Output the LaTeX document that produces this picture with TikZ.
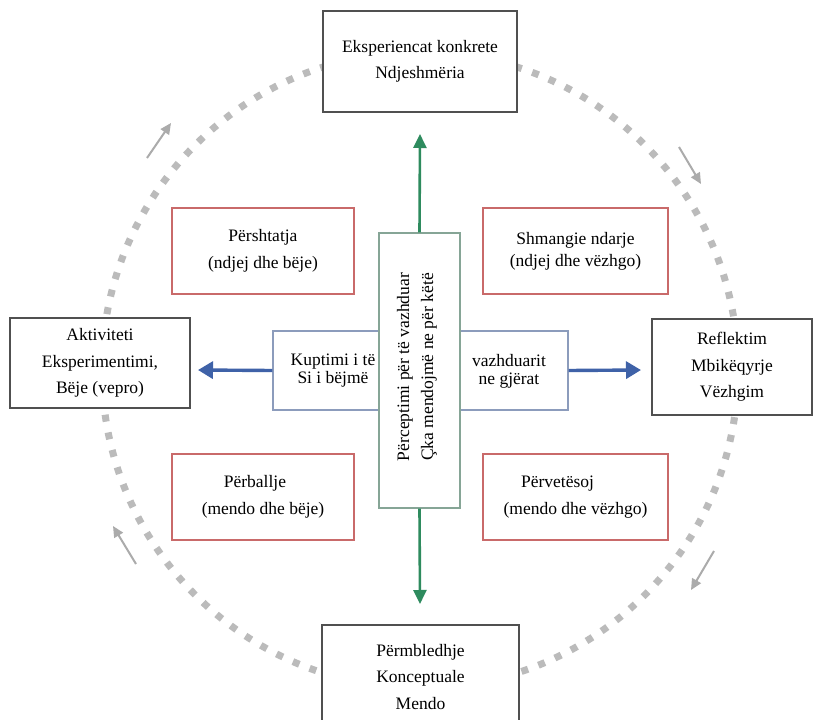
\documentclass[tikz,border=0pt]{standalone}
\usepackage{fontspec}
\setmainfont{Liberation Serif}
\usetikzlibrary{arrows.meta}
\definecolor{framegray}{HTML}{505050}
\definecolor{ringgray}{HTML}{BBBBBB}
\definecolor{arrowgray}{HTML}{ABABAB}
\definecolor{stylered}{HTML}{C96A6A}
\definecolor{axisgreen}{HTML}{2E8B5E}
\definecolor{axisblue}{HTML}{3F62A8}
\definecolor{vboxline}{HTML}{86A596}
\definecolor{hboxline}{HTML}{8C9CBC}
\begin{document}
\begin{tikzpicture}[x=1pt,y=-1pt,
  font=\fontsize{17.5}{26.5}\selectfont,
  stagebox/.style={draw=framegray, line width=1.4pt, fill=white, align=center, inner sep=0pt},
  stylebox/.style={draw=stylered, line width=1.5pt, fill=white, align=center, inner sep=0pt,
                   minimum width=182pt, minimum height=86pt},
  cyclearrow/.style={arrowgray, line width=2pt, -{Triangle[length=11pt,width=10pt]}},
  greenaxis/.style={axisgreen, line width=2.6pt, -{Triangle[length=14pt,width=13pt]}},
  blueaxis/.style={axisblue, line width=3.4pt, -{Triangle[length=15pt,width=17pt]}},
  label/.style={inner sep=0pt, align=center}]
\useasboundingbox (0,0) rectangle (823,720);
\clip (0,0) rectangle (823,720);
\fill[white] (0,0) rectangle (823,720);

% dotted learning cycle
\draw[ringgray, line width=7pt, dash pattern=on 7pt off 11pt] (420,370) circle[radius=318pt];

% direction of the cycle (clockwise)
\coordinate (ulA) at (147,158); \coordinate (ulB) at (171,123);
\coordinate (urA) at (679,147); \coordinate (urB) at (701,184);
\coordinate (lrA) at (714,551); \coordinate (lrB) at (691,590);
\coordinate (llA) at (136,564); \coordinate (llB) at (113,526);
\draw[cyclearrow] (ulA) -- (ulB);
\draw[cyclearrow] (urA) -- (urB);
\draw[cyclearrow] (lrA) -- (lrB);
\draw[cyclearrow] (llA) -- (llB);

% the four stages
\node[stagebox, minimum width=194pt, minimum height=101pt] (top) at (420,61.5)
  {Eksperiencat konkrete\\Ndjeshmëria};
\node[stagebox, minimum width=180pt, minimum height=90pt] (left) at (100,363)
  {Aktiviteti\\Eksperimentimi,\\Bëje (vepro)};
\node[stagebox, minimum width=160pt, minimum height=96pt] (right) at (732,367)
  {Reflektim\\Mbikëqyrje\\Vëzhgim};
\node[stagebox, minimum width=197pt, minimum height=104pt] (bottom) at (420.5,677)
  {Përmbledhje\\Konceptuale\\Mendo};

% the four learning styles
\node[stylebox] (ul) at (263,251) {Përshtatja\\(ndjej dhe bëje)};
\node[stylebox, minimum width=185pt] (ur) at (575.5,251) {Shmangie ndarje\\[-4.5pt](ndjej dhe vëzhgo)};
\node[stylebox] (ll) at (263,497) {Përballje\hspace*{16pt}\\(mendo dhe bëje)};
\node[stylebox, minimum width=185pt] (lr) at (575.5,497) {Përvetësoj\hspace*{36pt}\\(mendo dhe vëzhgo)};

% central cross
\node[draw=hboxline, line width=1.4pt, fill=white, minimum width=295pt, minimum height=79pt, inner sep=0pt]
  (hbox) at (420.5,370.5) {};
\node[label] (hleft) at (333,371) {Kuptimi i të\\[-8.5pt]Si i bëjmë};
\node[label] (hright) at (509,371) {vazhduarit\\[-8.5pt]ne gjërat};
\node[draw=vboxline, line width=1.4pt, fill=white, minimum width=81pt, minimum height=275pt, inner sep=0pt]
  (vbox) at (419.5,370.5) {};
\node[label, rotate=90] (vtext) at (417,367)
  {Përceptimi për të vazhduar\\[-2.5pt]Çka mendojmë ne për këtë};

% axis arrows
\coordinate (upTip) at (420,134);
\coordinate (downTip) at (420,604);
\coordinate (leftTip) at (198,370);
\coordinate (rightTip) at (641,370);
\draw[greenaxis] (vbox.north) -- (upTip);
\draw[greenaxis] (vbox.south) -- (downTip);
\draw[blueaxis] (hbox.west) -- (leftTip);
\draw[blueaxis] (hbox.east) -- (rightTip);
\end{tikzpicture}
\end{document}
